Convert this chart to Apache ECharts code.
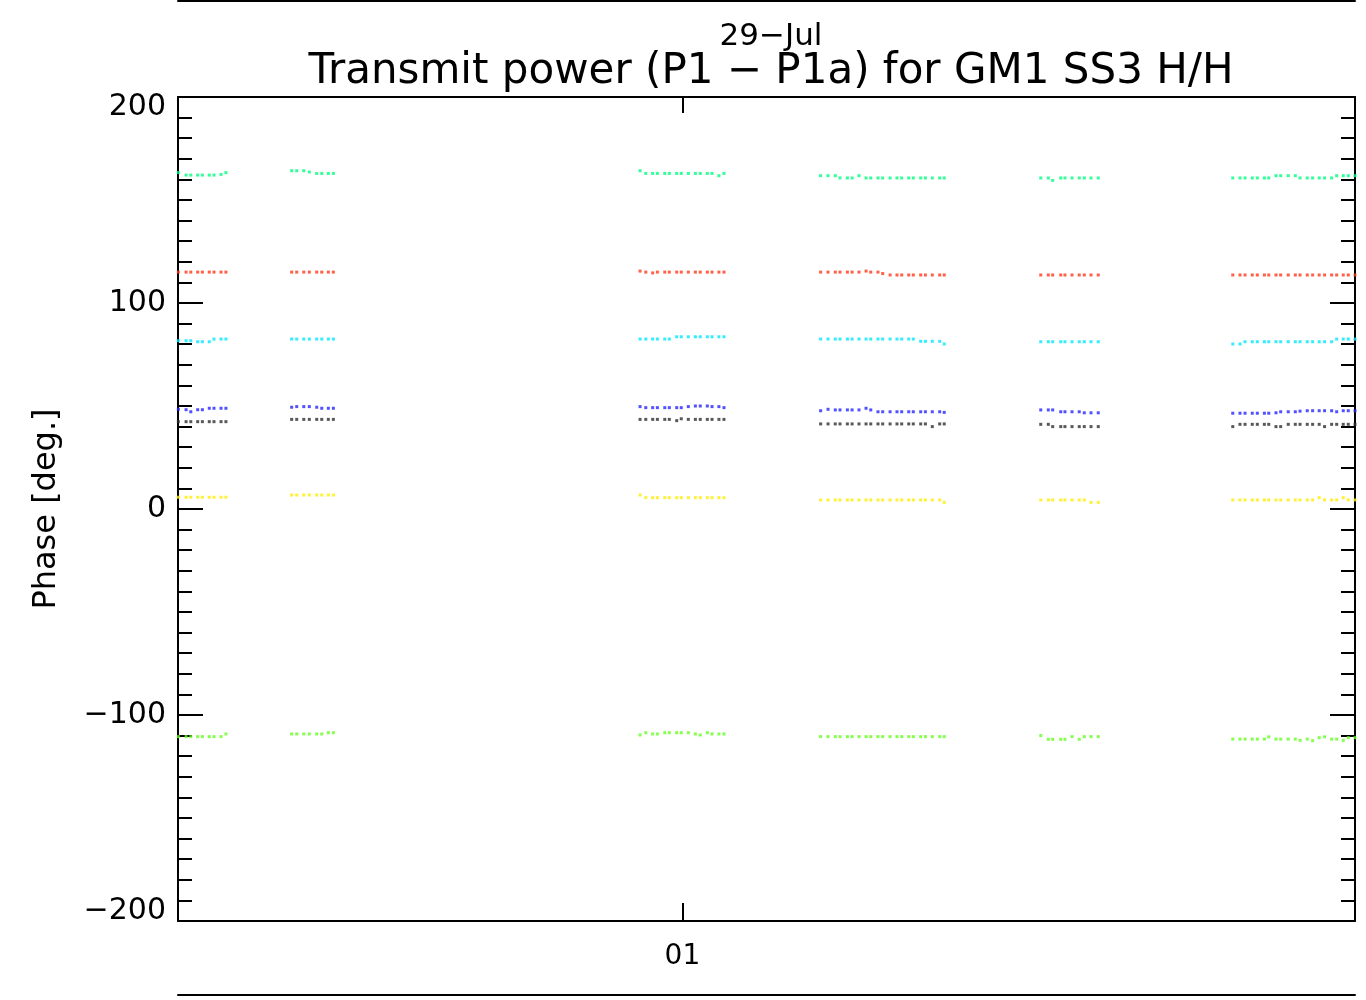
<!DOCTYPE html>
<html>
<head>
<meta charset="utf-8">
<script src="https://cdn.jsdelivr.net/npm/echarts@6/dist/echarts.min.js"></script>
<style>
html,body{margin:0;padding:0;background:#fff;}
#chart{width:1366px;height:1000px;}
</style>
</head>
<body>
<div id="chart"></div>
<script>
// Time of each sample, hours from the left edge of the plot
const times = [
  0.02,0.48,0.76,1.17,1.45,1.86,2.14,2.56,2.85,
  6.76,7.06,7.48,7.81,8.25,8.55,8.94,9.24,
  27.48,27.82,28.23,28.51,28.95,29.22,29.66,29.93,30.35,30.77,31.06,31.48,31.76,32.17,32.47,
  38.22,38.66,39.09,39.37,39.81,40.09,40.50,40.92,41.20,41.63,41.91,42.35,42.76,43.04,43.46,43.73,44.17,44.45,44.86,45.30,45.57,
  51.31,51.76,52.02,52.50,52.75,53.17,53.60,53.90,54.30,54.73,
  62.73,63.16,63.46,63.89,64.19,64.61,64.87,65.30,65.58,66.03,66.45,66.73,67.16,67.48,67.87,68.19,68.61,68.91,69.30,69.60,70.00
];
const xTickValues = [30];
const xTickLabels = ['01'];

const springGreen = [
  163.3,162.1,162.1,162.1,162.1,162.1,162.1,162.4,163.3,
  164.2,164.2,164.2,163.6,162.9,162.9,162.9,162.9,
  164.2,162.9,162.9,162.9,162.9,162.9,162.9,162.9,162.9,162.9,162.9,162.9,162.9,161.8,162.9,
  161.8,161.8,161.8,160.7,160.7,160.7,161.8,160.7,160.7,160.7,160.7,160.7,160.7,160.7,160.7,160.7,160.7,160.7,160.7,160.7,160.7,
  160.7,160.7,159.5,160.7,160.7,160.7,160.7,160.7,160.7,160.7,
  160.7,160.7,160.7,160.7,160.7,160.7,160.7,161.8,161.8,161.8,161.8,160.7,160.7,160.7,160.7,160.7,160.7,161.8,161.8,161.8,161.8
];
const red = [
  115.0,115.0,115.0,115.0,115.0,115.0,115.0,115.0,115.0,
  115.0,115.0,115.0,115.0,115.0,115.0,115.0,115.0,
  115.5,115.0,114.6,115.0,115.0,115.0,115.0,115.0,115.0,115.0,115.0,115.0,115.0,115.0,115.0,
  115.0,115.0,115.0,115.0,115.0,115.0,115.0,115.5,115.0,115.0,114.3,113.6,113.6,113.6,113.6,113.6,113.6,113.6,113.6,113.6,113.6,
  113.6,113.6,113.6,113.6,113.6,113.6,113.6,113.6,113.6,113.6,
  113.6,113.6,113.6,113.6,113.6,113.6,113.6,113.6,113.6,113.6,113.6,113.6,113.6,113.6,113.6,113.6,113.6,113.6,113.6,113.6,113.6
];
const cyan = [
  81.7,81.7,81.7,81.2,81.2,81.2,82.5,82.5,82.5,
  82.5,82.5,82.5,82.5,82.5,82.5,82.5,82.5,
  82.5,82.5,82.5,82.5,82.5,82.5,83.6,83.6,83.6,83.6,83.6,83.6,83.6,83.6,83.6,
  82.5,82.5,82.5,82.5,82.5,82.5,82.5,82.5,82.5,82.5,82.5,82.5,82.5,82.5,82.5,82.5,81.4,81.4,81.4,81.4,80.1,
  81.2,81.2,81.2,81.2,81.2,81.2,81.2,81.2,81.2,81.2,
  80.1,80.1,81.2,81.2,81.2,81.2,81.2,81.2,81.2,81.2,81.2,81.2,81.2,81.2,81.2,81.2,81.2,82.5,82.5,82.5,82.5
];
const blue = [
  48.4,48.2,47.2,48.2,48.2,48.9,48.9,48.9,48.9,
  49.4,49.7,49.7,49.7,49.4,48.9,48.9,48.9,
  49.7,49.2,49.2,49.2,49.2,49.2,49.2,49.2,49.7,50.0,50.0,50.0,49.7,49.7,49.2,
  47.7,48.4,48.1,48.1,48.1,48.1,48.1,48.9,48.1,47.2,47.2,47.2,47.2,47.2,47.2,47.2,47.2,47.2,47.2,47.2,46.9,
  48.1,48.1,48.1,47.2,47.2,47.2,47.2,46.7,46.7,46.7,
  46.5,46.5,46.5,46.5,46.5,46.5,46.5,46.7,47.2,47.2,47.2,47.5,47.7,47.7,47.7,47.7,47.7,47.2,47.7,47.7,47.7
];
const black = [
  42.4,42.4,42.4,42.4,42.4,42.4,42.4,42.4,42.4,
  43.5,43.5,43.5,43.5,43.5,43.5,43.5,43.5,
  43.5,43.5,43.5,43.5,43.5,43.5,42.9,43.8,43.5,43.5,43.5,43.5,43.5,43.5,43.5,
  41.3,41.3,41.3,41.3,41.3,41.3,41.3,41.3,41.3,41.3,41.3,41.3,41.3,41.3,41.3,41.3,41.3,41.3,40.0,41.3,41.3,
  41.1,41.1,40.0,40.0,40.0,40.0,40.0,40.0,40.0,40.0,
  40.0,41.1,41.1,41.1,41.1,41.1,41.1,40.0,40.0,41.1,41.1,41.1,41.1,41.1,41.1,40.0,41.1,41.1,41.1,41.1,41.1
];
const yellow = [
  5.7,5.7,5.7,5.7,5.7,5.7,5.7,5.7,5.7,
  6.8,6.8,6.8,6.8,6.8,6.8,6.8,6.8,
  6.8,5.5,5.5,5.5,5.5,5.5,5.5,5.5,5.5,5.5,5.5,5.5,5.5,5.5,5.5,
  4.4,4.4,4.4,4.4,4.4,4.4,4.4,4.4,4.4,4.4,4.4,4.4,4.4,4.4,4.4,4.4,4.4,4.4,4.4,4.4,3.2,
  4.4,4.4,4.4,4.4,4.4,4.4,4.4,4.4,3.2,3.2,
  4.4,4.4,4.4,4.4,4.4,4.4,4.4,4.4,4.4,4.4,4.4,4.4,4.4,4.4,5.5,4.4,4.4,4.4,5.5,4.4,4.4
];
const green = [
  -110.5,-110.5,-110.5,-110.5,-110.5,-110.5,-110.5,-110.5,-109.2,
  -109.2,-109.2,-109.2,-109.2,-109.2,-109.2,-108.6,-108.6,
  -109.7,-108.6,-109.2,-109.2,-108.6,-108.6,-108.6,-108.6,-108.6,-109.2,-109.7,-108.6,-109.2,-109.2,-109.2,
  -110.5,-110.5,-110.5,-110.5,-110.5,-110.5,-110.5,-110.5,-110.5,-110.5,-110.5,-110.5,-110.5,-110.5,-110.5,-110.5,-110.5,-110.5,-110.5,-110.5,-110.5,
  -110.0,-111.8,-111.8,-111.8,-111.8,-110.5,-111.8,-110.5,-110.5,-110.5,
  -111.7,-111.7,-111.7,-111.7,-111.7,-111.7,-110.6,-111.7,-111.7,-111.7,-111.7,-112.3,-111.7,-112.5,-111.0,-110.6,-111.7,-111.7,-112.3,-111.0,-111.0
];

const seriesDefs = [
  {name: 'S1', values: springGreen, color: '#00ff80'},
  {name: 'S2', values: red, color: '#ff3a1a'},
  {name: 'S3', values: cyan, color: '#00e8ff'},
  {name: 'S4', values: blue, color: '#2626ff'},
  {name: 'S5', values: black, color: '#303030'},
  {name: 'S6', values: yellow, color: '#ffee00'},
  {name: 'S7', values: green, color: '#66ff22'}
];

const FONT = 'DejaVu Sans';
const axisLine = {show: true, onZero: false, lineStyle: {color: '#000', width: 2}};

const chart = echarts.init(document.getElementById('chart'), null, {renderer: 'canvas'});
chart.setOption({
  animation: false,
  backgroundColor: '#fff',
  title: [
    {text: '29\u2212Jul', left: 766, top: 16, textAlign: 'center',
     textStyle: {fontFamily: FONT, fontSize: 31, fontWeight: 'normal', color: '#000'}},
    {text: 'Transmit power (P1 \u2212 P1a) for GM1 SS3 H/H', left: 766, top: 46, textAlign: 'center',
     textStyle: {fontFamily: FONT, fontSize: 42, fontWeight: 'normal', color: '#000'}}
  ],
  grid: {left: 178, right: 11, top: 97, bottom: 79, containLabel: false},
  xAxis: [
    {type: 'value', min: 0, max: 70, position: 'bottom', axisLine: axisLine,
     splitLine: {show: false},
     axisTick: {show: true, inside: true, length: 18, customValues: xTickValues, lineStyle: {color: '#000', width: 2}},
     axisLabel: {show: true, customValues: xTickValues, margin: 22, fontFamily: FONT, fontSize: 28, color: '#000',
       formatter: v => xTickLabels[xTickValues.indexOf(v)] || ''}},
    {type: 'value', min: 0, max: 70, position: 'top', axisLine: axisLine,
     splitLine: {show: false},
     axisTick: {show: true, inside: true, length: 16, customValues: xTickValues, lineStyle: {color: '#000', width: 2}},
     axisLabel: {show: false}},
    {type: 'value', min: 0, max: 70, position: 'top', offset: 96, axisLine: axisLine,
     splitLine: {show: false}, axisTick: {show: false}, axisLabel: {show: false}},
    {type: 'value', min: 0, max: 70, position: 'bottom', offset: 74, axisLine: axisLine,
     splitLine: {show: false}, axisTick: {show: false}, axisLabel: {show: false}}
  ],
  yAxis: [
    {type: 'value', min: -200, max: 200, interval: 100, position: 'left', axisLine: axisLine,
     splitLine: {show: false},
     axisTick: {show: true, inside: true, length: 25, lineStyle: {color: '#000', width: 2}},
     minorTick: {show: true, splitNumber: 10, length: 14, lineStyle: {color: '#000', width: 2}},
     axisLabel: {margin: 12, fontFamily: FONT, fontSize: 30, lineHeight: 20, color: '#000',
       verticalAlignMinLabel: 'bottom', verticalAlignMaxLabel: 'top',
       formatter: v => String(v).replace('-', '\u2212')},
     name: 'Phase [deg.]', nameLocation: 'middle', nameGap: 115, nameRotate: 90,
     nameTextStyle: {fontFamily: FONT, fontSize: 32, color: '#000'}},
    {type: 'value', min: -200, max: 200, interval: 100, position: 'right', axisLine: axisLine,
     splitLine: {show: false},
     axisTick: {show: true, inside: true, length: 25, lineStyle: {color: '#000', width: 2}},
     minorTick: {show: true, splitNumber: 10, length: 14, lineStyle: {color: '#000', width: 2}},
     axisLabel: {show: false}}
  ],
  series: seriesDefs.map(s => ({
    name: s.name,
    type: 'scatter',
    xAxisIndex: 0,
    yAxisIndex: 0,
    symbol: 'rect',
    symbolSize: 3,
    itemStyle: {color: s.color},
    clip: true,
    data: times.map((t, i) => [t, s.values[i]])
  }))
});
</script>
</body>
</html>
